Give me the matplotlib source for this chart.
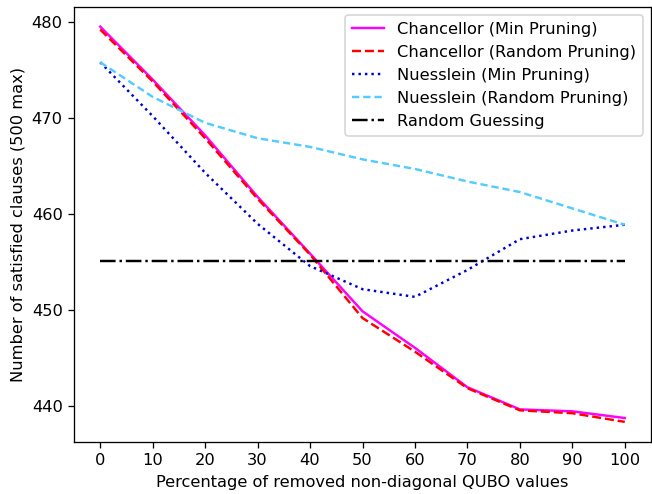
import matplotlib.pyplot as plt
import numpy as np

pruned = [0, 10, 20, 30, 40, 50, 60, 70, 80, 90, 100]

chancellor_min = [479.5, 474.0, 468.2, 461.8, 455.9, 449.9, 446.1, 442.0, 439.7, 439.5, 438.8]
chancellor_rand = [479.2, 473.8, 467.9, 461.6, 455.8, 449.2, 445.7, 441.9, 439.6, 439.3, 438.4]
nuesslein_min = [475.8, 470.2, 464.3, 459.0, 454.6, 452.2, 451.4, 454.2, 457.4, 458.3, 458.9]
nuesslein_rand = [475.8, 472.2, 469.5, 467.9, 467.0, 465.7, 464.7, 463.4, 462.3, 460.6, 458.9]
random_guess = [455.1] * len(pruned)

DPI = 117


def main():
    fig, ax = plt.subplots(figsize=(652 / DPI, 494 / DPI), dpi=DPI)
    fig.subplots_adjust(left=0.1135, right=0.9985, bottom=0.106, top=0.986)

    ax.plot(pruned, chancellor_min, "-", color="magenta", label="Chancellor (Min Pruning)")
    ax.plot(pruned, chancellor_rand, "--", color="red", label="Chancellor (Random Pruning)")
    ax.plot(pruned, nuesslein_min, ":", color="mediumblue", label="Nuesslein (Min Pruning)")
    ax.plot(pruned, nuesslein_rand, "--", color="#55ccff", dashes=(3, 1.6), label="Nuesslein (Random Pruning)")
    ax.plot(pruned, random_guess, "-.", color="black", label="Random Guessing")

    ax.set_xticks(pruned)
    ax.set_yticks(np.arange(440, 481, 10))
    ax.set_xlabel("Percentage of removed non-diagonal QUBO values")
    ax.set_ylabel("Number of satisfied clauses (500 max)")
    ax.legend(loc="upper right")

    fig.savefig("out.png", dpi=DPI)
    plt.close(fig)


if __name__ == "__main__":
    main()
